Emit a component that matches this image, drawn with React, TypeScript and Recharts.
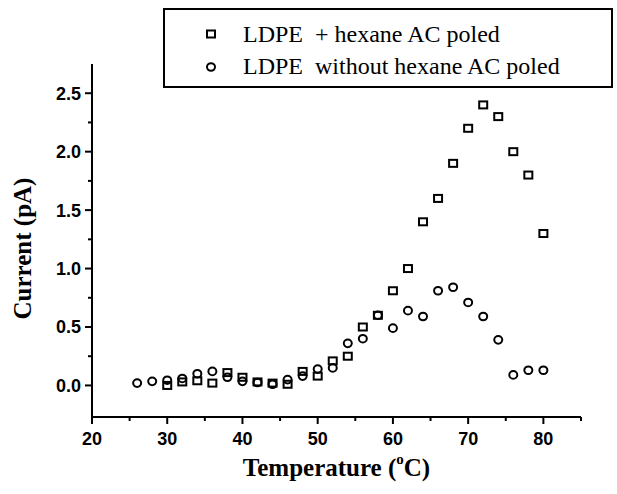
import React from "react";
import { ScatterChart, Scatter, XAxis, YAxis } from "recharts";

const temps = [26, 28, 30, 32, 34, 36, 38, 40, 42, 44, 46, 48, 50, 52, 54, 56, 58, 60, 62, 64, 66, 68, 70, 72, 74, 76, 78, 80];

// LDPE + hexane (starts at 30 °C)
const hexaneTemps = temps.slice(2);
const hexaneCurrent = [0.0, 0.03, 0.04, 0.02, 0.11, 0.07, 0.03, 0.02, 0.01, 0.12, 0.08, 0.21, 0.25, 0.5, 0.6, 0.81, 1.0, 1.4, 1.6, 1.9, 2.2, 2.4, 2.3, 2.0, 1.8, 1.3];

// LDPE without hexane
const plainCurrent = [0.02, 0.035, 0.045, 0.06, 0.1, 0.12, 0.07, 0.035, 0.025, 0.01, 0.05, 0.08, 0.14, 0.15, 0.36, 0.4, 0.6, 0.49, 0.64, 0.59, 0.81, 0.84, 0.71, 0.59, 0.39, 0.09, 0.13, 0.13];

const xTicks = [20, 25, 30, 35, 40, 45, 50, 55, 60, 65, 70, 75, 80, 85];
const yTicks = [0, 0.25, 0.5, 0.75, 1.0, 1.25, 1.5, 1.75, 2.0, 2.25, 2.5];

const seriesNames = ["LDPE  + hexane AC poled", "LDPE  without hexane AC poled"];

const hexaneData = hexaneTemps.map((t, i) => ({ t, c: hexaneCurrent[i] }));
const plainData = temps.map((t, i) => ({ t, c: plainCurrent[i] }));

const tickFont = { fontFamily: "'Liberation Sans', Arial, sans-serif", fontWeight: 700, fontSize: 18, fill: "#000" };
const serif = "'Liberation Serif', 'Times New Roman', serif";

const SquareDot = (p: any) => (
  <rect x={p.cx - 4} y={p.cy - 3.5} width={8} height={7} fill="none" stroke="#000" strokeWidth={2} />
);
const CircleDot = (p: any) => (
  <ellipse cx={p.cx} cy={p.cy} rx={4} ry={3.8} fill="none" stroke="#000" strokeWidth={2} />
);

const XTick = ({ x, y, payload }: any) => {
  const major = payload.value % 10 === 0;
  return (
    <g>
      <line x1={x} x2={x} y1={y} y2={y + (major ? 7 : 4)} stroke="#000" strokeWidth={2} />
      {major && payload.value <= 80 && (
        <text x={x} y={y + 28} textAnchor="middle" {...tickFont}>
          {payload.value}
        </text>
      )}
    </g>
  );
};

const YTick = ({ x, y, payload }: any) => {
  const major = Math.abs((payload.value * 2) % 1) < 1e-6;
  return (
    <g>
      <line x1={x - (major ? 7 : 4)} x2={x} y1={y} y2={y} stroke="#000" strokeWidth={2} />
      {major && (
        <text x={x - 11} y={y} dy="0.36em" textAnchor="end" {...tickFont}>
          {payload.value.toFixed(1)}
        </text>
      )}
    </g>
  );
};

const LegendBox = () => (
  <div
    style={{
      position: "absolute",
      top: 8,
      left: 163,
      border: "2px solid #000",
      width: 450,
      height: 80,
      boxSizing: "border-box",
      background: "#fff",
      fontFamily: serif,
      fontSize: 24,
      color: "#000",
      paddingTop: 8,
    }}
  >
    {seriesNames.map((name, i) => (
      <div key={name} style={{ display: "flex", alignItems: "center", height: 32, whiteSpace: "pre" }}>
        <svg width={78} height={20}>
          {i === 0 ? (
            <rect x={42} y={6.5} width={8} height={7} fill="none" stroke="#000" strokeWidth={2} />
          ) : (
            <ellipse cx={46} cy={11} rx={4} ry={3.8} fill="none" stroke="#000" strokeWidth={2} />
          )}
        </svg>
        <span>{name}</span>
      </div>
    ))}
  </div>
);

export default function App() {
  return (
    <div style={{ position: "absolute", left: 0, top: 0, width: 617, height: 494, background: "#fff" }}>
      <ScatterChart width={617} height={494} margin={{ top: 64, right: 36, left: 32, bottom: 47 }}>
        <XAxis
          type="number"
          dataKey="t"
          domain={[20, 85]}
          ticks={xTicks}
          interval={0}
          tick={<XTick />}
          tickSize={0}
          tickMargin={0}
          height={30}
          axisLine={{ stroke: "#000", strokeWidth: 2 }}
          label={{
            position: "bottom",
            content: ({ viewBox }: any) => (
              <text
                x={viewBox.x + viewBox.width / 2}
                y={470}
                textAnchor="middle"
                dominantBaseline="middle"
                fontFamily={serif}
                fontWeight={700}
                fontSize={25}
                fill="#000"
              >
                Temperature (<tspan fontSize={15} dy={-9}>o</tspan>
                <tspan dy={9}>C)</tspan>
              </text>
            ),
          }}
        />
        <YAxis
          type="number"
          dataKey="c"
          domain={[-0.27, 2.75]}
          ticks={yTicks}
          interval={0}
          tick={<YTick />}
          tickSize={0}
          tickMargin={0}
          width={60}
          axisLine={{ stroke: "#000", strokeWidth: 2 }}
          label={{
            position: "left",
            content: ({ viewBox }: any) => {
              const cy = viewBox.y + viewBox.height / 2 + 8;
              return (
                <text
                  x={25}
                  y={cy}
                  transform={`rotate(-90, 25, ${cy})`}
                  textAnchor="middle"
                  dominantBaseline="middle"
                  fontFamily={serif}
                  fontWeight={700}
                  fontSize={25}
                  fill="#000"
                >
                  Current (pA)
                </text>
              );
            },
          }}
        />
        <Scatter name={seriesNames[0]} data={hexaneData} shape={SquareDot} isAnimationActive={false} />
        <Scatter name={seriesNames[1]} data={plainData} shape={CircleDot} isAnimationActive={false} />
      </ScatterChart>
      <LegendBox />
    </div>
  );
}
